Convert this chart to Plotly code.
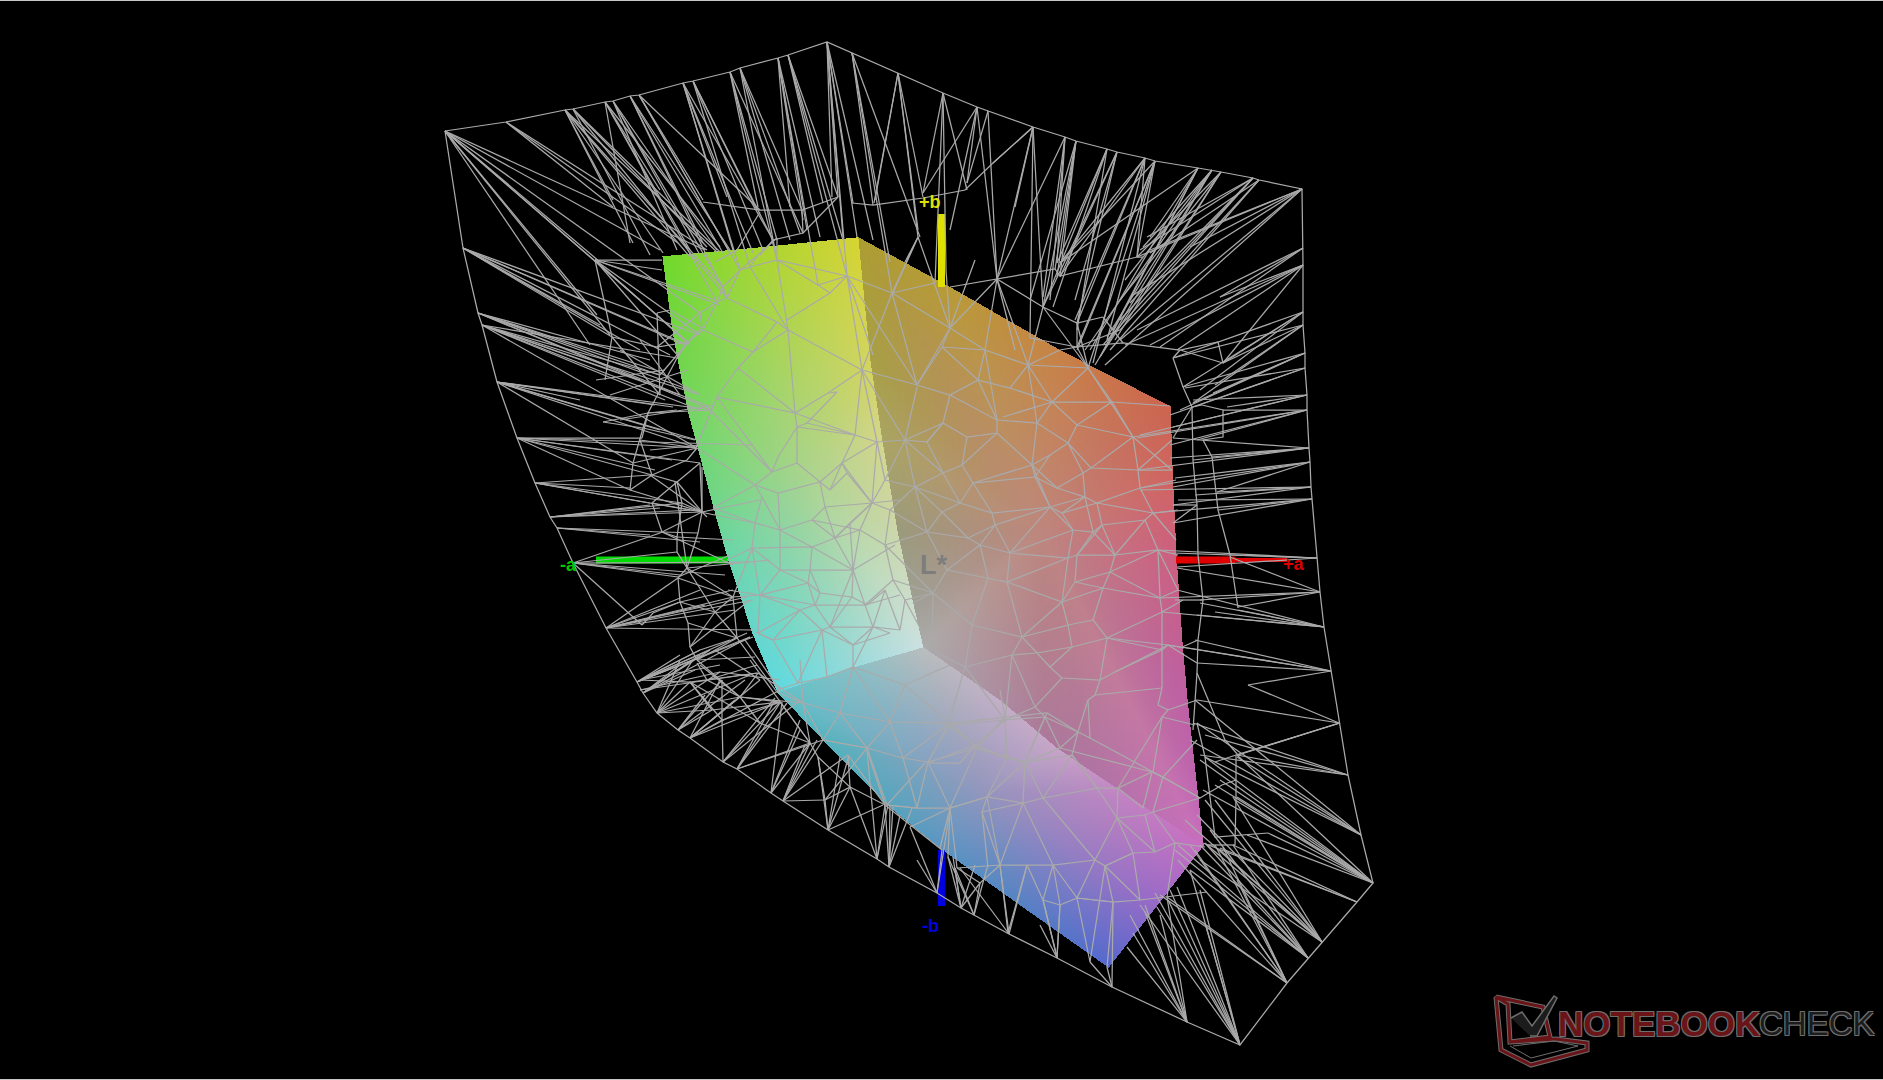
import numpy as np
import plotly.graph_objects as go

# ---------- outline of the wire shell (image-pixel coordinates) ----------
shell_outline = [(445,131),(506,122),(565,110),(573,109),(605,102),(613,101),(630,96),(639,95),(683,83),(693,81),(730,72),(740,68),(778,58),(788,55),(827,42),(852,53),(898,73),(943,93),(977,107),(988,111),(1033,127),(1065,137),(1076,141),(1107,149),(1117,152),(1145,158),(1155,161),(1198,168),(1212,170),(1221,172),(1253,178),(1259,180),(1302,189),(1303,248),(1303,265),(1303,312),(1303,325),(1305,353),(1305,368),(1307,395),(1307,410),(1309,448),(1310,462),(1311,487),(1312,499),(1317,558),(1320,592),(1324,627),(1331,671),(1339,723),(1348,775),(1361,835),(1373,883),(1357,902),(1322,942),(1308,958),(1287,983),(1240,1045),(1187,1022),(1112,987),(1057,958),(1009,934),(974,915),(961,908),(937,893),(889,867),(877,859),(828,830),(783,801),(771,793),(737,769),(723,762),(690,738),(678,730),(657,713),(643,693),(637,682),(606,628),(573,563),(557,528),(550,517),(535,483),(517,438),(497,382),(482,325),(478,313),(463,248),(445,131)]

# ---------- spokes: shell vertex -> inner mesh vertices ----------
shell_spokes = [
((445,131),[(705,250),(660,250),(600,262),(597,315),(610,335),(590,345),(640,300),(700,313),(688,342)]),
((506,122),[(613,207),(678,243),(707,250)]),
((565,110),[(717,252),(663,253),(690,257),(613,200),(633,243),(723,287)]),
((573,109),[(720,252),(707,247),(650,255),(727,298)]),
((605,102),[(720,247),(630,243),(660,190),(690,250),(717,302)]),
((613,101),[(717,250),(677,250),(700,255),(723,287)]),
((630,96),[(723,253),(703,243),(730,250),(727,298)]),
((639,95),[(760,210),(730,253),(703,200),(740,270)]),
((683,83),[(773,240),(753,253),(727,197),(733,250),(740,270)]),
((693,81),[(773,240),(763,250),(757,210),(750,267)]),
((730,72),[(777,240),(803,233),(777,260),(758,207)]),
((740,68),[(802,210),(800,233),(790,240),(777,260)]),
((778,58),[(807,230),(790,207),(803,220),(820,237),(818,285)]),
((788,55),[(838,197),(823,203),(843,240),(847,276)]),
((827,42),[(838,197),(843,237),(832,197),(873,240),(857,237),(853,203),(847,276)]),
((852,53),[(873,205),(920,237),(890,262),(892,293)]),
((898,73),[(875,200),(918,237),(923,197),(874,203),(918,230)]),
((943,93),[(923,193),(946,270),(967,190),(935,283)]),
((977,107),[(923,193),(967,183),(950,230),(997,279)]),
((988,111),[(997,279),(967,183)]),
((1033,127),[(993,163),(1015,207),(1043,307),(1030,338),(997,279)]),
((1065,137),[(997,279),(1043,297),(1057,263),(1050,300)]),
((1076,141),[(1057,277),(1043,307),(1030,300),(1055,269),(1060,276)]),
((1107,149),[(1057,263),(1053,307),(1077,330),(1043,307)]),
((1117,152),[(1060,277),(1077,323),(1075,300),(1043,307)]),
((1145,158),[(1060,263),(1093,363),(1137,257),(1075,320),(1060,276),(1077,323)]),
((1155,161),[(1107,340),(1077,350),(1137,257),(1060,263),(1077,347),(1088,368)]),
((1198,168),[(1060,263),(1150,237),(1113,330),(1100,357),(1090,350)]),
((1212,170),[(1143,247),(1107,337),(1125,280),(1095,365),(1085,350)]),
((1221,172),[(1137,257),(1100,357),(1120,300),(1115,340)]),
((1253,178),[(1147,237),(1130,303),(1120,320),(1103,345),(1140,250)]),
((1259,180),[(1150,253),(1120,330),(1110,350)]),
((1302,189),[(1190,247),(1137,257),(1130,297),(1120,340),(1150,250),(1105,365)]),
((1303,248),[(1220,297),(1160,347),(1137,330)]),
((1303,265),[(1220,297),(1177,350),(1223,363),(1150,345),(1125,345)]),
((1303,312),[(1223,363),(1183,387),(1200,390),(1173,358)]),
((1303,325),[(1223,363),(1193,403),(1215,385),(1173,358)]),
((1305,353),[(1213,393),(1193,403),(1180,410),(1183,387)]),
((1305,368),[(1193,407),(1170,415),(1185,388)]),
((1307,395),[(1227,407),(1173,427),(1193,400),(1140,435)]),
((1307,410),[(1137,438),(1223,410),(1197,440),(1170,445),(1133,437)]),
((1309,448),[(1173,438),(1170,458),(1212,457),(1193,460),(1138,470)]),
((1310,462),[(1173,487),(1217,492),(1175,478),(1140,488)]),
((1311,487),[(1173,505),(1217,492),(1195,495),(1140,490)]),
((1312,499),[(1173,523),(1218,510),(1178,500),(1153,513)]),
((1317,558),[(1173,553),(1230,555),(1177,567),(1158,550)]),
((1320,592),[(1230,557),(1200,600),(1238,607),(1177,568),(1160,598)]),
((1324,627),[(1200,603),(1238,610),(1177,590),(1197,615),(1215,612),(1162,612)]),
((1331,671),[(1182,647),(1197,663),(1248,685),(1195,640),(1168,645)]),
((1339,723),[(1238,755),(1248,685),(1197,700)]),
((1340,723),[(1237,755)]),
((1348,775),[(1237,755),(1193,723),(1205,735),(1200,755)]),
((1361,835),[(1205,757),(1237,757),(1197,723),(1195,700),(1190,740)]),
((1373,883),[(1237,755),(1237,797),(1268,833),(1247,835),(1205,757),(1215,785),(1200,760),(1235,800),(1220,780),(1203,790)]),
((1357,902),[(1233,845),(1203,843),(1220,848)]),
((1322,942),[(1233,797),(1207,845),(1200,860),(1215,800),(1205,800),(1185,820),(1197,815),(1220,850)]),
((1308,958),[(1233,845),(1190,870),(1205,843),(1210,830),(1178,845),(1175,850),(1200,845)]),
((1287,983),[(1237,880),(1167,897),(1223,847),(1195,850),(1215,845),(1178,860),(1190,845),(1160,895)]),
((1240,1045),[(1205,923),(1177,887),(1190,870),(1157,907),(1168,900),(1200,890),(1170,890),(1155,893),(1140,905)]),
((1187,1022),[(1133,933),(1167,897),(1127,947),(1145,905),(1130,915),(1145,912),(1160,915)]),
((1112,987),[(1107,967),(1113,902),(1090,962)]),
((1057,958),[(1040,925),(1043,900),(1060,905)]),
((1009,934),[(1000,865),(960,868),(1027,865)]),
((974,915),[(987,868),(980,883),(955,868),(948,857)]),
((961,908),[(953,857),(955,868),(975,865)]),
((937,893),[(910,827),(942,850),(950,810)]),
((889,867),[(890,805),(885,805),(912,808),(900,815),(893,807)]),
((877,859),[(867,750),(850,787),(885,805),(888,805)]),
((828,830),[(825,800),(850,787),(883,805),(818,757),(840,757),(849,755)]),
((783,801),[(817,740),(810,743),(825,800),(848,755),(805,745),(823,740)]),
((771,793),[(810,743),(782,702),(800,730),(800,720)]),
((737,769),[(787,703),(810,743),(823,740),(780,703),(775,700)]),
((723,762),[(722,720),(780,702),(775,698),(800,700)]),
((690,738),[(740,697),(722,720),(720,680),(780,702),(735,700),(760,680),(780,690)]),
((678,730),[(712,710),(722,680),(705,695),(745,680)]),
((657,713),[(690,682),(712,710),(740,697),(680,660),(693,660),(720,672),(750,675)]),
((643,693),[(750,637),(693,660),(680,665),(700,655),(695,670),(710,650)]),
((637,682),[(693,660),(747,633),(750,637),(700,650),(680,655),(753,637),(710,650)]),
((606,628),[(678,578),(753,600),(680,602),(735,610),(700,590),(705,605),(733,597),(747,597),(753,630)]),
((573,563),[(660,533),(678,577),(750,562),(642,625),(725,575),(677,552),(680,575)]),
((557,528),[(662,532),(700,542),(650,535)]),
((550,517),[(682,503),(650,505),(702,512),(660,508),(695,510)]),
((535,483),[(650,475),(630,488),(682,503),(650,503),(690,510)]),
((517,438),[(642,438),(697,448),(652,475),(630,490),(672,460),(655,470),(700,463),(752,445)]),
((497,382),[(673,407),(712,410),(580,400),(633,463),(660,430),(655,405),(697,448),(697,440)]),
((482,325),[(660,375),(665,400),(640,380),(700,395),(700,410),(680,395),(697,448),(677,358)]),
((478,313),[(660,375),(710,407),(690,390),(655,370),(650,360),(712,410)]),
((463,248),[(612,337),(670,355),(640,350),(600,325),(685,345),(700,335),(688,345)]),
((595,260),[(662,260),(662,270),(700,335),(690,345),(680,358),(612,337),(715,300),(720,305)]),
]

# ---------- inner mesh polylines (left, right, bottom faces and fringe) ----------
upper_ring = [
[(703,202),(760,210),(802,210),(838,197)],
[(852,203),(873,205),(923,198),(965,190),(993,163),(1033,127)],
[(802,210),(803,233),(773,240),(760,255)],
[(803,233),(838,197)],
[(760,212),(737,250),(715,262)],
[(777,238),(777,260)],
[(950,287),(997,279),(1055,269),(1060,276),(1137,257),(1143,257)],
[(997,279),(1043,307),(1077,323),(1103,317)],
[(997,279),(950,328)],[(997,279),(985,350)],[(997,279),(1028,365)],[(997,279),(1015,350)],
[(1043,307),(1028,365)],[(1043,307),(1088,368)],[(1077,323),(1088,368)],[(1077,323),(1077,347)],
[(1077,347),(1123,343),(1180,350),(1218,342),(1223,363),(1180,350)],
[(1077,347),(1060,350),(1028,365)],[(1077,347),(1088,368)],[(1077,347),(1120,330)],
[(1173,358),(1183,387),(1192,407)],[(1180,350),(1173,358)],
[(893,293),(918,237),(905,262)],
[(950,328),(918,237)],[(950,328),(946,270)],[(950,328),(975,260)],
[(1077,347),(1030,338)],[(1123,343),(1103,317)],[(918,237),(892,293)],[(935,283),(892,293)],
]
left_face = [
[(788,330),(753,352),(738,368),(717,397),(695,450)],
[(788,330),(795,413),(797,427),(797,463)],
[(717,397),(795,413),(828,393),(862,370)],
[(738,368),(795,413)],[(862,370),(855,435),(842,463)],
[(795,413),(855,435)],[(797,427),(855,435)],
[(717,397),(772,472),(778,457),(797,427)],
[(710,410),(772,472)],
[(697,448),(755,485),(772,472),(797,463),(820,482),(842,463),(877,442),(855,435)],
[(713,508),(755,485),(762,497),(755,523),(752,548)],
[(755,485),(778,493),(820,482),(825,507),(812,520),(780,530),(778,493)],
[(713,508),(755,523),(780,530),(812,547),(835,538),(812,520)],
[(825,507),(872,503),(877,442)],[(842,463),(872,503)],
[(825,507),(835,538),(850,523),(872,503)],
[(727,560),(752,548),(812,547),(810,570),(808,583),(815,605),(830,627),(822,630),(773,640),(758,633)],
[(752,548),(760,595),(758,633)],[(728,590),(760,595),(808,583)],[(760,595),(815,605)],
[(810,570),(853,570),(835,538)],[(853,570),(850,523)],[(853,570),(865,605),(815,605)],[(853,570),(830,627)],
[(773,640),(798,683),(827,677),(853,667),(853,645),(830,627)],
[(853,645),(873,627),(865,605)],[(853,667),(873,627),(900,630)],[(873,627),(890,633)],
[(755,632),(773,640)],[(827,677),(822,630)],[(798,683),(777,690)],[(853,645),(822,630)],
[(703,330),(717,302),(723,287),(740,270),(750,267),(777,260),(847,276)],
[(777,260),(818,285),(847,276)],[(777,260),(788,330)],[(787,320),(830,293),(847,276)],[(818,285),(830,293)],
[(740,270),(727,298),(777,322),(788,330)],[(750,267),(788,330)],[(777,322),(753,352),(703,330)],
[(723,287),(727,298),(717,302)],
[(847,276),(862,370)],[(847,276),(873,355)],[(847,276),(892,293)],
[(788,330),(862,370)],[(862,370),(905,440)],[(862,370),(877,442)],
[(835,538),(872,503)],[(853,570),(895,545)],[(872,503),(900,500)],[(865,605),(893,580)],
[(830,627),(873,627)],[(900,630),(885,590)],
[(758,255),(740,270)],[(758,255),(777,238)],[(758,255),(750,267)],
[(812,520),(860,530),(872,503)],[(860,530),(853,570)],[(860,530),(835,538)],[(860,530),(885,545)],
[(830,490),(820,482)],[(830,490),(842,463)],[(830,490),(847,473),(872,503)],[(842,463),(847,473)],
[(837,392),(828,393)],[(807,423),(797,427)],[(807,423),(837,392)],[(855,435),(807,423)],
[(810,570),(820,593),(852,597),(853,570)],[(820,593),(815,605)],[(820,593),(808,583)],[(852,597),(867,605),(885,590)],[(852,597),(830,627)],
[(812,547),(853,570)],[(780,530),(780,570),(810,570)],[(752,548),(780,570)],[(780,570),(808,583)],[(780,570),(760,595)],[(780,530),(762,497)],
[(758,633),(800,610),(815,605)],[(760,595),(800,610)],[(800,610),(822,630)],[(800,610),(773,640)],
[(798,683),(822,630)],[(890,633),(853,645)],[(900,630),(905,600)],[(873,627),(885,590)],[(865,605),(900,595)],
[(877,442),(885,480)],[(872,503),(890,510)],[(885,480),(872,503)],[(885,480),(915,487)],[(877,442),(905,440)],
[(862,370),(917,385)],[(847,276),(917,385)],[(892,293),(862,370)],[(885,480),(905,440)],
[(890,510),(927,532)],[(890,510),(915,487)],[(885,545),(927,532)],[(885,545),(890,510)],[(885,545),(933,593)],
[(893,580),(933,593)],[(893,580),(885,545)],[(905,600),(933,593)],[(905,600),(893,580)],[(905,600),(932,650)],
]
right_face = [
[(892,293),(950,328),(985,350),(1028,365),(1088,368)],
[(950,328),(942,347),(917,385),(892,293)],
[(942,347),(985,350),(978,380),(1010,388),(1028,365)],
[(917,385),(950,395),(978,380),(942,347)],
[(1028,365),(1052,402),(1010,388)],
[(1088,368),(1052,402),(1112,402),(1088,368)],
[(917,387),(905,440),(943,423),(950,395)],
[(950,395),(997,420),(978,380)],
[(997,420),(1037,423),(1052,402),(1077,425),(1112,402),(1133,437),(1077,425)],
[(1052,402),(1003,417)],
[(905,440),(927,442),(943,423),(967,437),(997,433),(997,420)],
[(997,433),(1032,465),(1037,423),(1068,443),(1050,455),(1032,465)],
[(1068,443),(1077,425)],[(1068,443),(1091,468),(1133,437)],
[(1133,437),(1138,470),(1172,440)],
[(1091,468),(1138,470),(1140,488),(1153,513),(1178,510)],
[(905,440),(915,487),(943,473),(927,442)],
[(943,473),(962,465),(967,437)],[(962,465),(973,483),(1035,477),(1032,465)],
[(1035,477),(1057,488),(1083,473),(1091,468)],[(1057,488),(1085,497),(1083,473)],
[(1085,497),(1097,503),(1140,488)],[(1097,503),(1153,513)],
[(1050,507),(1062,513),(1097,503)],[(1050,507),(1035,477)],[(1050,507),(992,513),(973,483)],
[(915,487),(942,512),(960,503),(943,473)],[(960,503),(973,483)],[(960,503),(992,513)],
[(942,512),(927,532),(915,487)],[(927,532),(968,538),(942,512)],[(968,538),(995,525),(992,513)],
[(968,538),(980,545),(995,525),(1010,553),(980,545)],
[(1010,553),(1050,507)],[(1010,553),(1068,558),(1073,530),(1050,507)],
[(1073,530),(1093,532),(1102,525),(1145,520),(1153,513)],[(1093,532),(1085,497)],[(1073,530),(1062,513)],
[(1068,558),(1077,555),(1115,555),(1102,525)],[(1115,555),(1158,550),(1178,555)],[(1145,520),(1158,550)],
[(1077,555),(1093,532)],[(1115,555),(1110,572),(1075,582),(1077,555)],
[(927,532),(947,570),(980,545)],[(947,570),(988,578),(1007,582),(1010,553)],[(988,578),(980,545)],
[(1007,582),(1062,602),(1068,558)],[(1062,602),(1075,582)],[(1062,602),(1103,588),(1110,572)],[(1103,588),(1160,598),(1158,550)],
[(947,570),(933,593),(972,625),(988,578)],[(972,625),(1022,637),(1007,582)],[(1022,637),(1062,602),(1068,625),(1022,637)],
[(1068,625),(1093,620),(1103,588)],[(1093,620),(1107,638),(1168,645)],
[(933,593),(913,603)],[(933,593),(932,650),(965,667),(972,625)],[(965,667),(1012,655),(1022,637)],
[(1012,655),(1037,653),(1022,637)],[(1037,653),(1072,647),(1068,625)],[(1072,647),(1107,638)],
[(1072,647),(1050,667),(1037,653)],[(1050,667),(1062,678),(1100,680),(1107,638)],[(1100,680),(1115,672),(1162,650)],
[(1162,612),(1162,650)],[(1162,612),(1160,598)],[(1162,650),(1168,645)],[(1162,688),(1162,650)],
[(1162,688),(1158,705),(1168,710),(1162,717),(1153,772),(1090,738)],
[(1062,678),(1035,707),(1012,655)],[(1035,707),(1005,720),(1012,655)],
[(1035,707),(1045,717),(1078,732),(1088,700),(1095,695),(1100,680)],
[(1095,695),(1162,688)],[(1090,738),(1078,732)],[(1090,738),(1088,700)],
[(965,667),(948,725),(1005,720),(965,667)],[(948,725),(928,763),(975,745),(948,725)],
[(975,745),(1005,720),(1007,758),(975,745)],[(975,745),(960,763),(928,763)],
[(1007,758),(1025,762),(1060,748),(1045,717)],[(1078,732),(1060,748)],[(1005,720),(1045,717)],[(1025,762),(1045,717)],
[(1060,748),(1152,772)],[(1162,717),(1118,788)],[(1153,772),(1163,777)],[(1107,638),(1162,612)],
[(1112,402),(1170,406)],[(1138,470),(1172,470)],[(1160,598),(1178,590)],[(1168,645),(1184,648)],
[(1050,507),(1085,497)],[(1050,507),(1032,465)],[(1032,465),(1057,488)],[(1050,455),(1035,477)],[(1083,473),(1068,443)],
[(1085,497),(1062,513)],[(1097,503),(1102,525)],[(1093,532),(1115,555)],[(1115,555),(1145,520)],[(1110,572),(1160,598)],
[(1110,572),(1158,550)],[(1075,582),(1103,588)],[(1077,555),(1102,525)],[(1010,553),(1073,530)],[(1007,582),(1068,558)],
[(995,525),(1050,507)],[(973,483),(1032,465)],[(962,465),(997,433)],[(943,423),(927,442)],[(905,440),(943,473)],[(915,487),(960,503)],
[(1133,437),(1172,470)],[(1140,488),(1176,480)],[(1153,513),(1176,540)],[(1158,550),(1178,590)],[(1162,612),(1183,600)],
[(1107,638),(1162,650)],[(1115,672),(1168,645)],[(1168,645),(1197,663)],
[(1088,368),(1133,437)],[(1028,365),(1037,423)],[(985,350),(997,420)],[(950,328),(917,385)],
[(1168,710),(1197,700)],[(1162,717),(1195,725)],[(1153,772),(1200,798)],[(1163,777),(1197,740)],
]
bottom_face = [
[(777,692),(803,703),(840,713),(890,722),(950,723),(1005,717),(1047,713),(1078,732)],
[(803,703),(823,740)],[(840,713),(823,740)],
[(840,713),(867,748),(890,722),(903,758),(950,723),(928,762),(977,748),(950,723)],
[(823,740),(867,748),(903,758),(928,762)],
[(977,748),(1005,717),(1007,758),(977,748)],[(1007,758),(1025,762),(1072,755),(1078,732)],[(1025,762),(1047,713)],
[(867,748),(887,805)],[(903,758),(917,808)],[(925,763),(887,805)],[(928,762),(950,808),(977,748)],
[(950,808),(987,797),(1007,758)],[(987,797),(1025,762)],
[(887,805),(917,808),(950,808),(987,797),(1023,803),(1043,798),(1097,788),(1072,755)],
[(1043,798),(1025,762)],[(1043,798),(1072,755)],
[(950,808),(940,848)],[(950,808),(948,857)],
[(987,797),(1000,865)],[(957,868),(1000,865),(1027,865),(1053,865),(1095,860)],
[(1023,803),(1053,865)],[(1043,798),(1095,860)],
[(982,812),(1000,865)],[(982,812),(988,868)],[(1000,865),(1008,933)],[(1027,865),(1008,933)],
[(1027,865),(1043,900),(1053,865),(1060,905),(1077,898),(1053,865)],
[(1043,900),(1060,905)],[(1043,900),(1057,957)],[(1060,905),(1057,957)],[(1077,898),(1113,902)],
[(1097,788),(1118,788),(1152,772),(1163,777)],[(1118,788),(1117,818),(1097,788)],
[(1117,818),(1095,860),(1105,866),(1113,902),(1140,900),(1167,897),(1207,892)],
[(1117,818),(1133,853),(1105,866)],[(1117,818),(1155,852)],[(1145,815),(1155,852)],
[(1095,860),(1077,898),(1113,902)],[(1077,898),(1090,962),(1105,866)],[(1105,866),(1140,900)],[(1133,853),(1140,900)],[(1113,902),(1107,967)],
[(1117,818),(1145,815),(1153,812),(1200,798),(1222,785),(1236,780)],
[(1118,788),(1143,808)],[(1152,772),(1143,808)],[(1163,777),(1153,812)],[(1163,777),(1200,798)],
[(1105,866),(1133,853),(1155,852),(1175,843),(1205,847)],[(1153,812),(1175,843)],
[(1236,755),(1236,797),(1235,845)],[(1205,757),(1210,798),(1215,837),(1268,833)],
[(1207,845),(1235,845)],[(1167,897),(1175,843)],
[(803,703),(800,660)],[(840,713),(853,667)],[(890,722),(853,667)],[(890,722),(905,685),(950,723)],[(905,685),(950,665)],
[(1005,717),(1000,690)],[(905,685),(853,667)],[(977,748),(1025,762)],[(1072,755),(1097,788)],[(1023,803),(1025,762)],
[(987,797),(982,812),(1023,803)],[(917,808),(928,762)],[(950,808),(957,868)],[(1000,865),(1023,803)],
]
lower_fringe = [
[(640,680),(690,682),(758,673)],[(640,680),(700,650),(730,640)],[(640,680),(720,665)],[(640,690),(720,672)],
[(690,682),(722,720),(780,702)],[(712,710),(780,702)],[(740,697),(758,673)],[(712,710),(690,682)],[(740,697),(803,703)],
[(722,720),(722,680)],[(740,697),(780,702)],[(758,673),(803,703)],[(750,660),(810,743)],
[(810,743),(803,703)],[(810,743),(818,757),(850,787),(825,800)],[(848,755),(850,787)],[(867,748),(825,800)],
[(823,740),(867,748)],[(848,755),(885,805)],[(818,757),(825,800)],[(850,787),(885,805),(917,808)],
[(867,750),(885,805)],[(885,805),(942,850)],[(910,827),(950,808)],[(937,893),(917,860)],[(948,857),(961,908)],
[(1000,865),(980,883),(957,868)],[(980,883),(961,908)],
[(640,690),(757,673)],[(690,682),(760,723)],[(760,723),(810,743)],[(740,697),(760,723)],[(780,702),(810,743)],
[(700,665),(740,697)],[(715,650),(760,680)],[(745,640),(780,690)],[(720,672),(780,680)],
]
left_fringe = [
[(603,422),(643,428),(648,413),(667,377),(677,358)],
[(643,428),(633,463),(630,490),(652,475),(640,440)],
[(652,475),(677,482),(700,463)],[(652,475),(687,460),(697,448)],
[(677,482),(652,503),(662,532)],[(677,482),(682,503),(677,537),(662,532)],
[(677,482),(702,512)],[(700,463),(702,512),(682,503)],
[(702,512),(698,533),(687,568),(677,552),(677,537)],
[(687,568),(678,578),(680,602),(688,623),(690,647),(697,660)],
[(678,578),(733,597)],[(687,568),(733,597),(737,638)],
[(680,602),(653,613),(642,625)],[(680,602),(733,590)],[(733,597),(760,595)],
[(688,623),(737,638)],[(690,647),(750,600)],
[(697,660),(737,638)],[(697,660),(740,697)],[(697,660),(755,657)],
[(657,313),(670,310)],[(657,313),(660,395)],
[(700,313),(702,328),(688,342),(677,358)],[(700,313),(717,302)],[(688,342),(703,330)],
[(650,450),(700,445)],[(648,413),(712,410)],[(643,428),(695,440)],
[(702,512),(760,500)],[(700,512),(755,523)],[(678,577),(730,555)],[(687,568),(770,560)],
[(733,597),(752,548)],[(677,537),(733,540)],
[(596,380),(665,370)],[(610,395),(688,370)],[(620,420),(715,405)],
[(648,413),(677,410)],[(603,422),(648,413)],[(640,440),(697,448)],[(648,413),(642,438)],[(630,490),(702,512)],
[(633,463),(697,448)],[(650,475),(702,512)],[(660,533),(702,512)],[(652,503),(702,512)],[(662,532),(698,533)],[(662,532),(733,565)],
[(697,663),(707,680),(740,697)],[(702,467),(702,512),(707,517)],[(675,482),(687,568),(715,612),(737,638),(757,665),(777,692)],
[(715,612),(680,602)],[(715,612),(733,597)],[(707,680),(757,665)],[(690,647),(715,612)],
[(612,337),(657,347),(688,342)],[(612,337),(660,395)],[(612,337),(605,380)],[(640,340),(680,395)],[(620,350),(700,395)],
[(670,310),(702,328)],[(657,347),(700,313)],[(660,375),(688,342)],
]
right_fringe = [
[(1192,407),(1193,460),(1197,505),(1198,555),(1203,600),(1198,640),(1197,673)],
[(1202,405),(1223,410),(1223,437),(1203,440),(1212,457),(1218,510),(1230,555),(1238,608)],
[(1197,673),(1225,740),(1238,755)],[(1197,673),(1193,730)],
[(1192,407),(1173,438)],[(1202,405),(1192,407)],[(1173,505),(1197,505)],
[(1173,523),(1197,505)],[(1175,600),(1203,600)],[(1180,648),(1198,640)],
[(1215,762),(1236,755)],[(1205,757),(1197,723)],[(1236,755),(1340,723)],
]

# ---------- solid gamut faces: triangle fans as (centre, rim), each vertex x, y, r, g, b ----------
left_face_hub = (800,470,168,212,140)
left_face_rim = [(662,256,112,217,43),(760,247,170,214,48),(858,237,215,212,50),(870,360,212,212,95),(882,440,212,214,140),(897,530,205,215,170),(913,603,205,222,205),(923,647,205,225,225),(850,668,150,218,220),(777,692,95,218,225),(752,633,100,215,205),(727,557,105,215,170),(713,507,110,215,140),(698,450,112,215,115),(688,413,115,215,100),(677,358,112,215,75),(672,330,112,215,65)]
right_face_hub = (1040,530,190,135,125)
right_face_rim = [(858,237,172,158,50),(950,287,185,155,55),(1060,350,200,130,70),(1170,406,205,100,80),(1172,470,210,100,95),(1176,557,205,95,130),(1182,643,195,95,150),(1187,700,190,95,165),(1195,773,190,100,175),(1203,845,200,110,190),(1095,785,175,115,165),(1043,738,172,122,155),(923,647,172,172,172),(913,603,160,160,150),(897,530,155,155,125),(882,440,170,165,100),(870,360,168,160,70)]
bottom_face_hub = (985,790,150,150,190)
bottom_face_rim = [(777,692,95,195,200),(850,668,135,192,198),(923,647,185,190,190),(1000,700,195,175,200),(1057,748,200,165,200),(1130,797,195,130,195),(1203,845,200,110,195),(1155,907,150,105,200),(1108,967,85,105,205),(1020,905,85,130,195),(940,848,90,150,195),(887,805,85,165,190),(823,740,85,180,190)]

# ---------- axes and labels ----------
axis_x = {"green":[596,728],"red":[1176,1235],"red_tip":[1235,1287],"yellow":[941.5,941.5],"blue":[941.5,941.5]}
axis_y = {"green":[560,560],"red":[560,560],"red_tip":[560,560],"yellow":[214,287],"blue":[850,906]}
axis_colour = {"green":"#00dc00","red":"#e00000","red_tip":"#e00000","yellow":"#e0e000","blue":"#0000e0"}
axis_width = {"green":7,"red":7,"red_tip":4,"yellow":7,"blue":7}
axis_labels = [("+b",930,202,"#e0e000",18),("-b",930,926,"#0000e0",18),("-a",568,565,"#00c800",18),("+a",1294,564,"#d80000",18),("L*",933,565,"#7d7d7d",27)]

# ---------- watermark ----------
logo_outer = [(1496,997),(1543,1007),(1550,1037),(1510,1042),(1508,1004),(1496,997),(1501,1050),(1531,1065),(1587,1050),(1587,1043),(1556,1039),(1510,1042)]
logo_base = [(1513,1046),(1554,1041),(1578,1046),(1531,1058),(1510,1046)]
logo_check = [(1511,1018),(1522,1012),(1532,1026),(1554,996),(1557,998),(1537,1036),(1530,1036)]

WIRE = "#aaaaaa"

# rasterise the three shaded faces from their vertex colours
bx0, by0, bw, bh = 650, 225, 570, 760
canvas = np.zeros((bh, bw, 4), dtype=np.uint8)
def fan(hub, rim):
    yy, xx = np.mgrid[by0:by0+bh, bx0:bx0+bw]
    for i in range(len(rim)):
        a, b, c = np.array(hub, float), np.array(rim[i], float), np.array(rim[(i+1) % len(rim)], float)
        d = (b[1]-c[1])*(a[0]-c[0]) + (c[0]-b[0])*(a[1]-c[1])
        if abs(d) < 1e-6:
            continue
        w0 = ((b[1]-c[1])*(xx-c[0]) + (c[0]-b[0])*(yy-c[1])) / d
        w1 = ((c[1]-a[1])*(xx-c[0]) + (a[0]-c[0])*(yy-c[1])) / d
        w2 = 1 - w0 - w1
        m = (w0 >= -1e-3) & (w1 >= -1e-3) & (w2 >= -1e-3)
        for k in range(3):
            canvas[..., k][m] = np.clip(w0[m]*a[2+k] + w1[m]*b[2+k] + w2[m]*c[2+k], 0, 255)
        canvas[..., 3][m] = 255
fan(left_face_hub, left_face_rim)
fan(right_face_hub, right_face_rim)
fan(bottom_face_hub, bottom_face_rim)

fig = go.Figure()
fig.add_trace(go.Image(z=canvas.tolist(), colormodel="rgba256", x0=bx0, dx=1, y0=by0, dy=1, hoverinfo="skip"))

for name in axis_x:
    fig.add_trace(go.Scatter(x=axis_x[name], y=axis_y[name], mode="lines", hoverinfo="skip",
                             line=dict(color=axis_colour[name], width=axis_width[name])))

wx, wy = [], []
def add_path(p):
    for x, y in p:
        wx.append(x); wy.append(y)
    wx.append(None); wy.append(None)
add_path(shell_outline)
for hub, targets in shell_spokes:
    for t in targets:
        add_path([hub, t])
for group in (upper_ring, left_face, right_face, bottom_face, lower_fringe, left_fringe, right_fringe):
    for p in group:
        add_path(p)
fig.add_trace(go.Scatter(x=wx, y=wy, mode="lines", hoverinfo="skip", connectgaps=False,
                         line=dict(color=WIRE, width=1.25)))

# watermark strokes
for path, col, w in [(logo_outer, "#6e6e6e", 5), (logo_outer, "#6a1418", 3), (logo_base, "#6e6e6e", 1)]:
    fig.add_trace(go.Scatter(x=[p[0] for p in path], y=[p[1] for p in path], mode="lines",
                             hoverinfo="skip", line=dict(color=col, width=w)))
fig.add_trace(go.Scatter(x=[p[0] for p in logo_check], y=[p[1] for p in logo_check], mode="lines",
                         fill="toself", fillcolor="#1c1c1c", hoverinfo="skip",
                         line=dict(color="#6e6e6e", width=1.5)))
# thin light rows at the top and bottom of the frame
fig.add_trace(go.Scatter(x=[0,1883,None,0,1883], y=[0.5,0.5,None,1079.5,1079.5], mode="lines",
                         hoverinfo="skip", line=dict(color="#c8c8c8", width=1)))

ann = []
for t, x, y, c, s in axis_labels:
    ann.append(dict(text="<b>%s</b>" % t, x=x, y=y, xref="x", yref="y", showarrow=False,
                    font=dict(family="Liberation Sans", size=s, color=c), xanchor="center", yanchor="middle"))
outline = "-1px -1px 0 #6e6e6e, 1px -1px 0 #6e6e6e, -1px 1px 0 #6e6e6e, 1px 1px 0 #6e6e6e"
ann.append(dict(text="<b>NOTEBOOK</b>", x=1556, y=1023, xref="x", yref="y", showarrow=False, xanchor="left", yanchor="middle",
                font=dict(family="Liberation Sans", size=35, color="#6a1418", shadow=outline)))
ann.append(dict(text="CHECK", x=1757, y=1023, xref="x", yref="y", showarrow=False, xanchor="left", yanchor="middle",
                font=dict(family="Liberation Sans", size=33, color="#1c1c1c", shadow=outline)))

fig.update_layout(width=1883, height=1080, margin=dict(l=0, r=0, t=0, b=0), paper_bgcolor="black", plot_bgcolor="black",
                  showlegend=False, annotations=ann,
                  xaxis=dict(range=[0,1883], visible=False, fixedrange=True),
                  yaxis=dict(range=[1080,0], visible=False, fixedrange=True))
fig.write_html("out.html", config={"displayModeBar": False},
               post_script="document.body.style.margin='0';document.body.style.background='black';document.body.style.overflow='hidden';")
